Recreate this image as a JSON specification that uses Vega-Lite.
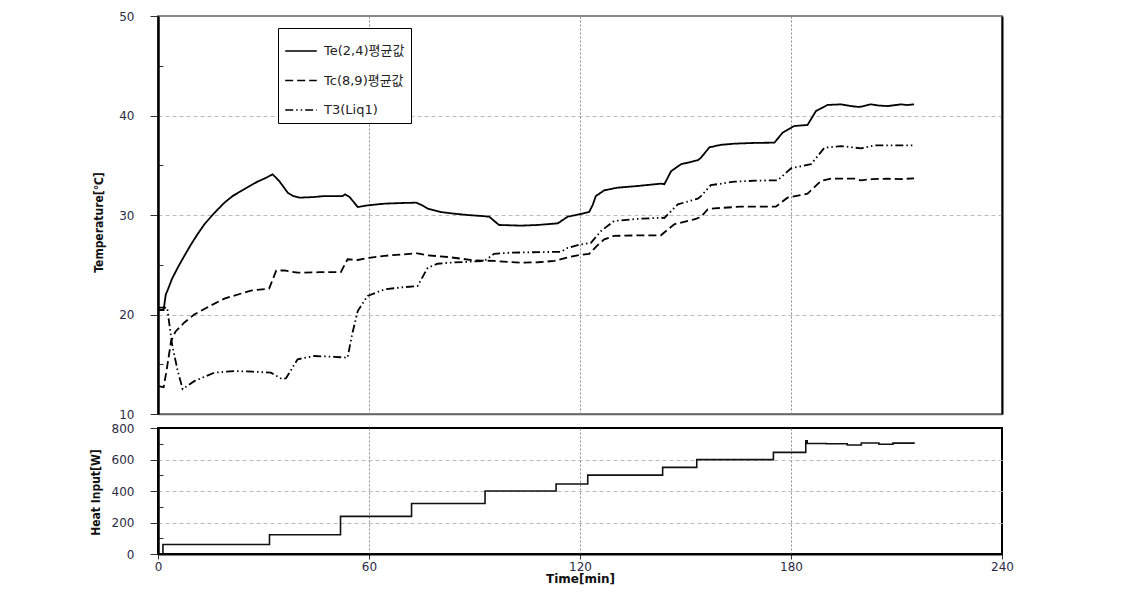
{
  "$schema": "https://vega.github.io/schema/vega-lite/v6.json",
  "background": "white",
  "padding": {"left": 88, "top": 9, "right": 5, "bottom": 5},
  "bounds": "flush",
  "spacing": 14,
  "config": {
    "axis": {
      "labelFont": "DejaVu Sans",
      "labelFontSize": 12,
      "labelColor": "#2b2b45",
      "labelFlush": false,
      "titleFont": "Liberation Sans Narrow, DejaVu Sans Condensed, Arial Narrow, sans-serif",
      "titleFontSize": 12,
      "titleFontWeight": "bold",
      "titleColor": "#111",
      "tickColor": "#333"
    }
  },
  "datasets": {
    "temp": [
      {"s": "Te(2,4)평균값", "t": 0, "T": 20.45}, {"s": "Te(2,4)평균값", "t": 1.6, "T": 20.45}, {"s": "Te(2,4)평균값", "t": 2.2, "T": 22.0}, {"s": "Te(2,4)평균값", "t": 2.8, "T": 22.5}, {"s": "Te(2,4)평균값", "t": 4.0, "T": 23.6}, {"s": "Te(2,4)평균값", "t": 5.6, "T": 24.7}, {"s": "Te(2,4)평균값", "t": 7.5, "T": 25.9}, {"s": "Te(2,4)평균값", "t": 9.4, "T": 27.05}, {"s": "Te(2,4)평균값", "t": 11.3, "T": 28.1}, {"s": "Te(2,4)평균값", "t": 13.2, "T": 29.07}, {"s": "Te(2,4)평균값", "t": 16, "T": 30.2}, {"s": "Te(2,4)평균값", "t": 18.9, "T": 31.24}, {"s": "Te(2,4)평균값", "t": 21.2, "T": 31.9}, {"s": "Te(2,4)평균값", "t": 23.6, "T": 32.4}, {"s": "Te(2,4)평균값", "t": 26, "T": 32.9}, {"s": "Te(2,4)평균값", "t": 28.3, "T": 33.35}, {"s": "Te(2,4)평균값", "t": 30.5, "T": 33.7}, {"s": "Te(2,4)평균값", "t": 32.6, "T": 34.09}, {"s": "Te(2,4)평균값", "t": 34.5, "T": 33.4}, {"s": "Te(2,4)평균값", "t": 36.9, "T": 32.24}, {"s": "Te(2,4)평균값", "t": 38.5, "T": 31.9}, {"s": "Te(2,4)평균값", "t": 40.2, "T": 31.74}, {"s": "Te(2,4)평균값", "t": 44, "T": 31.8}, {"s": "Te(2,4)평균값", "t": 47.3, "T": 31.9}, {"s": "Te(2,4)평균값", "t": 52.5, "T": 31.9}, {"s": "Te(2,4)평균값", "t": 53.2, "T": 32.08}, {"s": "Te(2,4)평균값", "t": 54.5, "T": 31.8}, {"s": "Te(2,4)평균값", "t": 56.8, "T": 30.8}, {"s": "Te(2,4)평균값", "t": 59.6, "T": 30.97}, {"s": "Te(2,4)평균값", "t": 64.4, "T": 31.14}, {"s": "Te(2,4)평균값", "t": 69, "T": 31.2}, {"s": "Te(2,4)평균값", "t": 73.4, "T": 31.24}, {"s": "Te(2,4)평균값", "t": 75, "T": 31.0}, {"s": "Te(2,4)평균값", "t": 76.7, "T": 30.64}, {"s": "Te(2,4)평균값", "t": 80.5, "T": 30.3}, {"s": "Te(2,4)평균값", "t": 83.3, "T": 30.17}, {"s": "Te(2,4)평균값", "t": 88, "T": 30.0}, {"s": "Te(2,4)평균값", "t": 92, "T": 29.9}, {"s": "Te(2,4)평균값", "t": 94.2, "T": 29.83}, {"s": "Te(2,4)평균값", "t": 95.6, "T": 29.4}, {"s": "Te(2,4)평균값", "t": 97.0, "T": 29.0}, {"s": "Te(2,4)평균값", "t": 103.2, "T": 28.93}, {"s": "Te(2,4)평균값", "t": 108, "T": 29.0}, {"s": "Te(2,4)평균값", "t": 113.7, "T": 29.16}, {"s": "Te(2,4)평균값", "t": 116.5, "T": 29.83}, {"s": "Te(2,4)평균값", "t": 119.8, "T": 30.07}, {"s": "Te(2,4)평균값", "t": 122.6, "T": 30.3}, {"s": "Te(2,4)평균값", "t": 123.6, "T": 31.0}, {"s": "Te(2,4)평균값", "t": 124.5, "T": 31.9}, {"s": "Te(2,4)평균값", "t": 126.9, "T": 32.48}, {"s": "Te(2,4)평균값", "t": 130.7, "T": 32.75}, {"s": "Te(2,4)평균값", "t": 136, "T": 32.9}, {"s": "Te(2,4)평균값", "t": 143, "T": 33.15}, {"s": "Te(2,4)평균값", "t": 144, "T": 33.1}, {"s": "Te(2,4)평균값", "t": 145.9, "T": 34.4}, {"s": "Te(2,4)평균값", "t": 148.7, "T": 35.1}, {"s": "Te(2,4)평균값", "t": 153.5, "T": 35.5}, {"s": "Te(2,4)평균값", "t": 154.4, "T": 35.76}, {"s": "Te(2,4)평균값", "t": 156.8, "T": 36.8}, {"s": "Te(2,4)평균값", "t": 160, "T": 37.05}, {"s": "Te(2,4)평균값", "t": 163.9, "T": 37.17}, {"s": "Te(2,4)평균값", "t": 170, "T": 37.25}, {"s": "Te(2,4)평균값", "t": 175.3, "T": 37.27}, {"s": "Te(2,4)평균값", "t": 177.6, "T": 38.27}, {"s": "Te(2,4)평균값", "t": 180.9, "T": 38.94}, {"s": "Te(2,4)평균값", "t": 184.7, "T": 39.05}, {"s": "Te(2,4)평균값", "t": 187.1, "T": 40.45}, {"s": "Te(2,4)평균값", "t": 190.4, "T": 41.06}, {"s": "Te(2,4)평균값", "t": 194.2, "T": 41.12}, {"s": "Te(2,4)평균값", "t": 197, "T": 40.95}, {"s": "Te(2,4)평균값", "t": 199.4, "T": 40.85}, {"s": "Te(2,4)평균값", "t": 202.7, "T": 41.12}, {"s": "Te(2,4)평균값", "t": 205, "T": 41.0}, {"s": "Te(2,4)평균값", "t": 207.5, "T": 40.95}, {"s": "Te(2,4)평균값", "t": 211.3, "T": 41.12}, {"s": "Te(2,4)평균값", "t": 213, "T": 41.05}, {"s": "Te(2,4)평균값", "t": 215, "T": 41.12},
      {"s": "Tc(8,9)평균값", "t": 0, "T": 12.8}, {"s": "Tc(8,9)평균값", "t": 1.6, "T": 12.7}, {"s": "Tc(8,9)평균값", "t": 2.5, "T": 14.5}, {"s": "Tc(8,9)평균값", "t": 3.7, "T": 17.3}, {"s": "Tc(8,9)평균값", "t": 5.0, "T": 18.3}, {"s": "Tc(8,9)평균값", "t": 7.5, "T": 19.2}, {"s": "Tc(8,9)평균값", "t": 10.3, "T": 20.0}, {"s": "Tc(8,9)평균값", "t": 15, "T": 20.9}, {"s": "Tc(8,9)평균값", "t": 18.9, "T": 21.6}, {"s": "Tc(8,9)평균값", "t": 26.4, "T": 22.4}, {"s": "Tc(8,9)평균값", "t": 31.6, "T": 22.6}, {"s": "Tc(8,9)평균값", "t": 33.6, "T": 24.4}, {"s": "Tc(8,9)평균값", "t": 35.9, "T": 24.44}, {"s": "Tc(8,9)평균값", "t": 39.7, "T": 24.2}, {"s": "Tc(8,9)평균값", "t": 46, "T": 24.25}, {"s": "Tc(8,9)평균값", "t": 52.0, "T": 24.27}, {"s": "Tc(8,9)평균값", "t": 53.9, "T": 25.55}, {"s": "Tc(8,9)평균값", "t": 56.8, "T": 25.48}, {"s": "Tc(8,9)평균값", "t": 60, "T": 25.7}, {"s": "Tc(8,9)평균값", "t": 64.4, "T": 25.9}, {"s": "Tc(8,9)평균값", "t": 73.8, "T": 26.15}, {"s": "Tc(8,9)평균값", "t": 76.7, "T": 25.95}, {"s": "Tc(8,9)평균값", "t": 82.4, "T": 25.78}, {"s": "Tc(8,9)평균값", "t": 90, "T": 25.44}, {"s": "Tc(8,9)평균값", "t": 95.6, "T": 25.38}, {"s": "Tc(8,9)평균값", "t": 103.2, "T": 25.2}, {"s": "Tc(8,9)평균값", "t": 108, "T": 25.25}, {"s": "Tc(8,9)평균값", "t": 112.7, "T": 25.38}, {"s": "Tc(8,9)평균값", "t": 116, "T": 25.7}, {"s": "Tc(8,9)평균값", "t": 119.8, "T": 25.98}, {"s": "Tc(8,9)평균값", "t": 122.6, "T": 26.1}, {"s": "Tc(8,9)평균값", "t": 124.8, "T": 26.9}, {"s": "Tc(8,9)평균값", "t": 126.9, "T": 27.55}, {"s": "Tc(8,9)평균값", "t": 129.7, "T": 27.9}, {"s": "Tc(8,9)평균값", "t": 136, "T": 27.95}, {"s": "Tc(8,9)평균값", "t": 143, "T": 27.96}, {"s": "Tc(8,9)평균값", "t": 146.8, "T": 29.07}, {"s": "Tc(8,9)평균값", "t": 152.5, "T": 29.57}, {"s": "Tc(8,9)평균값", "t": 154.4, "T": 29.8}, {"s": "Tc(8,9)평균값", "t": 156.3, "T": 30.57}, {"s": "Tc(8,9)평균값", "t": 158.2, "T": 30.67}, {"s": "Tc(8,9)평균값", "t": 165.8, "T": 30.84}, {"s": "Tc(8,9)평균값", "t": 175.7, "T": 30.84}, {"s": "Tc(8,9)평균값", "t": 179, "T": 31.74}, {"s": "Tc(8,9)평균값", "t": 184.7, "T": 32.14}, {"s": "Tc(8,9)평균값", "t": 188.5, "T": 33.42}, {"s": "Tc(8,9)평균값", "t": 191.4, "T": 33.65}, {"s": "Tc(8,9)평균값", "t": 198, "T": 33.65}, {"s": "Tc(8,9)평균값", "t": 199.9, "T": 33.49}, {"s": "Tc(8,9)평균값", "t": 203, "T": 33.6}, {"s": "Tc(8,9)평균값", "t": 207.5, "T": 33.65}, {"s": "Tc(8,9)평균값", "t": 211, "T": 33.6}, {"s": "Tc(8,9)평균값", "t": 215, "T": 33.69},
      {"s": "T3(Liq1)", "t": 0, "T": 20.7}, {"s": "T3(Liq1)", "t": 2.6, "T": 20.7}, {"s": "T3(Liq1)", "t": 4.0, "T": 17.0}, {"s": "T3(Liq1)", "t": 5.5, "T": 14.5}, {"s": "T3(Liq1)", "t": 7.0, "T": 12.5}, {"s": "T3(Liq1)", "t": 10.3, "T": 13.3}, {"s": "T3(Liq1)", "t": 16, "T": 14.15}, {"s": "T3(Liq1)", "t": 21.7, "T": 14.32}, {"s": "T3(Liq1)", "t": 27, "T": 14.25}, {"s": "T3(Liq1)", "t": 32.1, "T": 14.15}, {"s": "T3(Liq1)", "t": 35.4, "T": 13.49}, {"s": "T3(Liq1)", "t": 36.4, "T": 13.6}, {"s": "T3(Liq1)", "t": 39.7, "T": 15.5}, {"s": "T3(Liq1)", "t": 44.4, "T": 15.83}, {"s": "T3(Liq1)", "t": 50, "T": 15.75}, {"s": "T3(Liq1)", "t": 53.9, "T": 15.66}, {"s": "T3(Liq1)", "t": 55.2, "T": 18.0}, {"s": "T3(Liq1)", "t": 56.8, "T": 20.35}, {"s": "T3(Liq1)", "t": 59.6, "T": 21.86}, {"s": "T3(Liq1)", "t": 64.4, "T": 22.53}, {"s": "T3(Liq1)", "t": 70, "T": 22.75}, {"s": "T3(Liq1)", "t": 73.8, "T": 22.86}, {"s": "T3(Liq1)", "t": 76.7, "T": 24.7}, {"s": "T3(Liq1)", "t": 79.5, "T": 25.1}, {"s": "T3(Liq1)", "t": 82.4, "T": 25.2}, {"s": "T3(Liq1)", "t": 92.8, "T": 25.38}, {"s": "T3(Liq1)", "t": 95.6, "T": 26.1}, {"s": "T3(Liq1)", "t": 99.4, "T": 26.2}, {"s": "T3(Liq1)", "t": 105, "T": 26.25}, {"s": "T3(Liq1)", "t": 114.6, "T": 26.3}, {"s": "T3(Liq1)", "t": 116.5, "T": 26.7}, {"s": "T3(Liq1)", "t": 120.3, "T": 27.05}, {"s": "T3(Liq1)", "t": 123.1, "T": 27.2}, {"s": "T3(Liq1)", "t": 126, "T": 28.4}, {"s": "T3(Liq1)", "t": 129.7, "T": 29.4}, {"s": "T3(Liq1)", "t": 136, "T": 29.6}, {"s": "T3(Liq1)", "t": 143, "T": 29.73}, {"s": "T3(Liq1)", "t": 144, "T": 29.7}, {"s": "T3(Liq1)", "t": 147.8, "T": 31.07}, {"s": "T3(Liq1)", "t": 153.5, "T": 31.64}, {"s": "T3(Liq1)", "t": 154.4, "T": 31.9}, {"s": "T3(Liq1)", "t": 157.2, "T": 33.0}, {"s": "T3(Liq1)", "t": 163.9, "T": 33.35}, {"s": "T3(Liq1)", "t": 170, "T": 33.45}, {"s": "T3(Liq1)", "t": 176.2, "T": 33.49}, {"s": "T3(Liq1)", "t": 180, "T": 34.7}, {"s": "T3(Liq1)", "t": 185.7, "T": 35.1}, {"s": "T3(Liq1)", "t": 189.5, "T": 36.76}, {"s": "T3(Liq1)", "t": 194.2, "T": 36.93}, {"s": "T3(Liq1)", "t": 199.9, "T": 36.7}, {"s": "T3(Liq1)", "t": 203.7, "T": 37.0}, {"s": "T3(Liq1)", "t": 210, "T": 37.0}, {"s": "T3(Liq1)", "t": 215, "T": 37.0}
    ],
    "heat": [
      {"t": 0, "W": 0}, {"t": 1.4, "W": 60}, {"t": 31.7, "W": 122}, {"t": 51.9, "W": 239}, {"t": 72.1, "W": 321}, {"t": 93, "W": 400}, {"t": 113.2, "W": 444}, {"t": 122.2, "W": 501}, {"t": 143.5, "W": 550}, {"t": 153.2, "W": 599}, {"t": 175, "W": 645}, {"t": 184.2, "W": 718}, {"t": 184.6, "W": 702}, {"t": 190, "W": 700}, {"t": 196, "W": 692}, {"t": 200, "W": 705}, {"t": 205, "W": 697}, {"t": 209, "W": 704}, {"t": 215, "W": 700}
    ]
  },
  "vconcat": [
    {
      "width": 844,
      "height": 398,
      "view": {"stroke": "#888", "strokeWidth": 2},
      "data": {"name": "temp"},
      "layer": [
        {
          "mark": {"type": "line", "stroke": "black", "strokeWidth": 1.8},
          "encoding": {
            "x": {"field": "t", "type": "quantitative", "scale": {"domain": [0, 240], "nice": false, "zero": false},
              "axis": {"values": [60, 120, 180], "labels": false, "ticks": false, "title": null, "grid": true, "gridDash": [2, 2], "gridColor": "#888", "domainColor": "#666", "domainWidth": 1.5}},
            "y": {"field": "T", "type": "quantitative", "scale": {"domain": [10, 50], "nice": false, "zero": false},
              "axis": {"values": [10, 15, 20, 25, 30, 35, 40, 45, 50], "labelExpr": "datum.value % 10 == 0 ? datum.label : ''",
                "grid": true, "gridColor": "#bbb", "gridDash": [4, 3],
                "gridOpacity": {"condition": {"test": "datum.value % 10 == 0 && datum.value > 10 && datum.value < 50", "value": 1}, "value": 0},
                "tickSize": {"condition": {"test": "datum.value % 10 == 0", "value": 8}, "value": -5},
                "labelPadding": 16, "domainColor": "black", "domainWidth": 2.5,
                "title": "Temperature[℃]", "titleAngle": -90, "titleX": -60, "titleY": 206, "titleBaseline": "middle", "titleAlign": "center"}},
            "strokeDash": {"field": "s", "type": "nominal",
              "scale": {"domain": ["Te(2,4)평균값", "Tc(8,9)평균값", "T3(Liq1)"], "range": [[1, 0], [8, 4], [8, 3, 1.5, 3, 1.5, 3]]},
              "legend": {"orient": "none", "legendX": 120, "legendY": 12, "title": null, "symbolType": "stroke", "symbolSize": 1000, "symbolStrokeWidth": 1.5, "symbolStrokeColor": "black", "labelFont": "DejaVu Sans, Noto Sans CJK KR", "labelFontSize": 13, "labelColor": "#222", "padding": 6, "rowPadding": 5.5, "labelOffset": 6, "strokeColor": "black", "fillColor": "white", "direction": "vertical"}}
          }
        },
        {
          "mark": {"type": "line", "strokeOpacity": 0},
          "encoding": {
            "x": {"field": "t", "type": "quantitative", "scale": {"domain": [0, 240], "nice": false, "zero": false},
              "axis": {"values": [60, 120, 180], "labels": false, "ticks": false, "title": null, "grid": true, "gridDash": [2, 2], "gridColor": "#888", "domainColor": "#666", "domainWidth": 1.5}},
            "y": {"field": "T", "type": "quantitative", "scale": {"domain": [10, 50], "nice": false, "zero": false},
              "axis": {"orient": "right", "labels": false, "ticks": false, "grid": false, "title": null, "domainColor": "black", "domainWidth": 2}},
            "detail": {"field": "s"}
          }
        }
      ],
      "resolve": {"axis": {"y": "independent"}}
    },
    {
      "width": 844,
      "height": 126,
      "view": {"stroke": "black", "strokeWidth": 2},
      "data": {"name": "heat"},
      "mark": {"type": "line", "interpolate": "step-after", "stroke": "#111", "strokeWidth": 1.6},
      "encoding": {
        "x": {"field": "t", "type": "quantitative", "scale": {"domain": [0, 240], "nice": false, "zero": false},
          "axis": {"values": [0, 60, 120, 180, 240], "grid": true, "gridDash": [2, 2], "gridColor": "#888",
            "gridOpacity": {"condition": {"test": "datum.value > 0 && datum.value < 240", "value": 1}, "value": 0},
            "tickSize": 5, "labelPadding": 2, "domainColor": "black", "domainWidth": 2,
            "title": "Time[min]", "titleFont": "DejaVu Sans", "titleFontSize": 12, "titleFontWeight": "bold", "titlePadding": 1}},
        "y": {"field": "W", "type": "quantitative", "scale": {"domain": [0, 800], "nice": false, "zero": true},
          "axis": {"values": [0, 100, 200, 300, 400, 500, 600, 700, 800], "labelExpr": "datum.value % 200 == 0 ? datum.label : ''",
            "grid": true, "gridColor": "#bbb", "gridDash": [4, 3],
            "gridOpacity": {"condition": {"test": "datum.value % 200 == 0 && datum.value > 0 && datum.value < 800", "value": 1}, "value": 0},
            "tickSize": {"condition": {"test": "datum.value % 200 == 0", "value": 8}, "value": -5},
            "labelPadding": 16, "domainColor": "black", "domainWidth": 2.5,
            "title": "Heat Input[W]", "titleAngle": -90, "titleX": -63, "titleY": 64, "titleBaseline": "middle", "titleAlign": "center"}}
      }
    }
  ]
}
